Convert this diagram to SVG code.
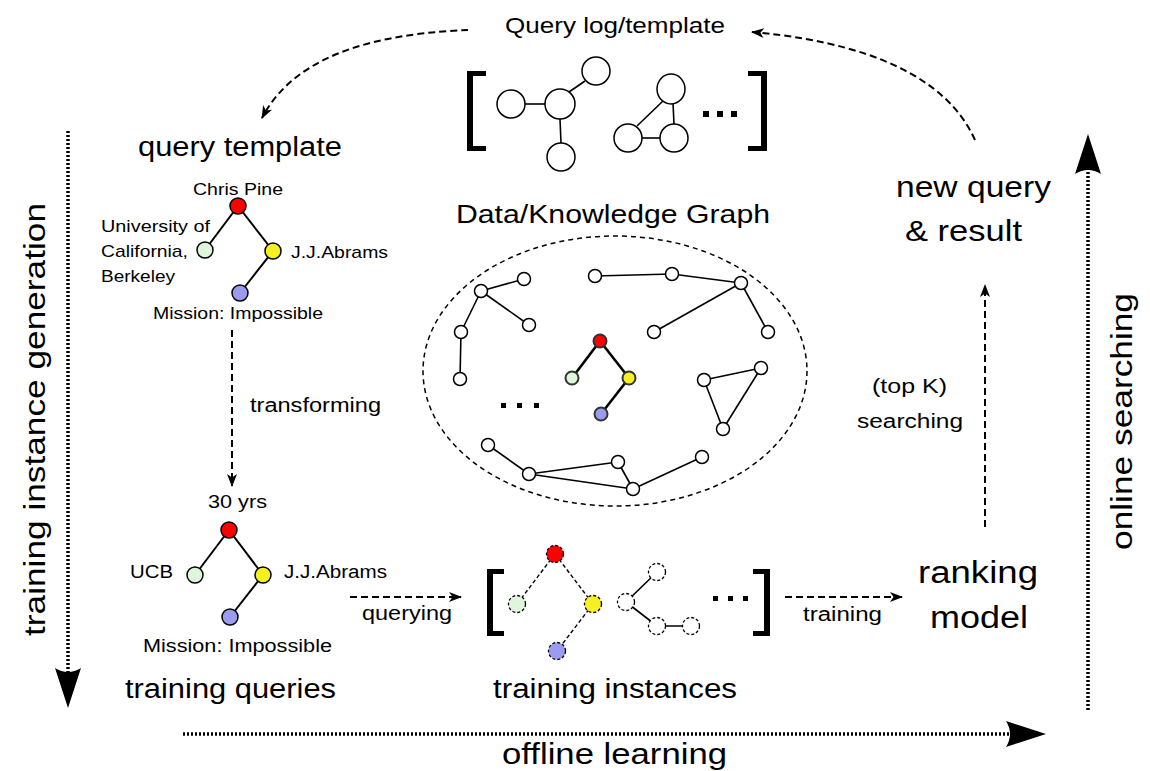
<svg xmlns="http://www.w3.org/2000/svg" width="1150" height="771" viewBox="0 0 1150 771">
<defs>
<style>
text{font-family:"Liberation Sans",Arial,sans-serif;fill:#000}
.dash{fill:none;stroke:#000;stroke-width:2;stroke-dasharray:7 4}
.dot{fill:none;stroke:#000;stroke-width:3.5;stroke-dasharray:2 2}
.e{stroke:#000;stroke-width:1.6;fill:none}
.te{stroke:#000;stroke-width:2;fill:none}
.ke{stroke:#000;stroke-width:2.6;fill:none}
.de{stroke:#000;stroke-width:1.4;fill:none;stroke-dasharray:4 2.5}
.n{stroke:#000;stroke-width:1.5;fill:#fff}
.dn{stroke:#000;stroke-width:1.3;stroke-dasharray:3 2}
.kn{stroke:#333;stroke-width:2}
.br{fill:#000}
.red{fill:#ff0000}.grn{fill:#dff6dc}.yel{fill:#f6f022}.blu{fill:#9b9cf0}
</style>
<marker id="ah" markerWidth="14" markerHeight="10" refX="12" refY="5" orient="auto" markerUnits="userSpaceOnUse"><path d="M0,0 L13,5 L0,10 L3.5,5 Z" fill="#000"/></marker>
</defs>
<rect width="1150" height="771" fill="#fff"/>

<g id="connectors">
<path class="dash" d="M468,30 C400,33 300,45 262,118" marker-end="url(#ah)"/>
<path class="dash" d="M975,140 C955,95 900,45 752,32" marker-end="url(#ah)"/>
<path class="dash" d="M232,330 L232,486" marker-end="url(#ah)"/>
<path class="dash" d="M350,597 L461,597" marker-end="url(#ah)"/>
<path class="dash" d="M785,597 L902,597" marker-end="url(#ah)"/>
<path class="dash" d="M985,527 L985,285" marker-end="url(#ah)"/>
<path class="dot" d="M68,131 L68,675"/>
<path d="M68,708 L55,668 Q68,676 81,668 Z" fill="#000"/>
<path class="dot" d="M183,734 L1012,734"/>
<path d="M1046,734 L1006,721 Q1014,734 1006,747 Z" fill="#000"/>
<path class="dot" d="M1088,710 L1088,168"/>
<path d="M1088,134 L1075,174 Q1088,166 1101,174 Z" fill="#000"/>
</g>

<g id="query-log">
<text x="505" y="33" font-size="22" textLength="220" lengthAdjust="spacingAndGlyphs">Query log/template</text>
<path class="br" d="M467,71 h19 v5 h-13 v70 h13 v5 h-19 Z"/>
<line class="e" x1="525" y1="104" x2="545" y2="104"/>
<line class="e" x1="560" y1="119" x2="561" y2="143"/>
<line class="e" x1="569" y1="92" x2="585" y2="81"/>
<circle class="n" cx="511" cy="104" r="14"/>
<circle class="n" cx="560" cy="104" r="15"/>
<circle class="n" cx="596" cy="71" r="14"/>
<circle class="n" cx="561" cy="157" r="14"/>
<line class="e" x1="673" y1="103" x2="674" y2="124"/>
<line class="e" x1="663" y1="101" x2="637" y2="126"/>
<line class="e" x1="642" y1="138" x2="660" y2="138"/>
<ellipse class="n" cx="671" cy="89" rx="14" ry="15"/>
<circle class="n" cx="628" cy="138" r="14"/>
<circle class="n" cx="674" cy="138" r="14"/>
<rect x="703" y="111" width="6" height="6"/>
<rect x="717" y="111" width="6" height="6"/>
<rect x="731" y="111" width="6" height="6"/>
<path class="br" d="M767,71 h-19 v5 h13 v70 h-13 v5 h19 Z"/>
</g>

<g id="query-template">
<text x="138" y="156" font-size="27" textLength="204" lengthAdjust="spacingAndGlyphs">query template</text>
<line class="te" x1="238" y1="206" x2="205" y2="250"/>
<line class="te" x1="238" y1="206" x2="273" y2="251"/>
<line class="te" x1="273" y1="251" x2="240" y2="293"/>
<circle class="n red" cx="238" cy="206" r="8"/>
<circle class="n grn" cx="205" cy="250" r="8"/>
<circle class="n yel" cx="273" cy="251" r="8"/>
<circle class="n blu" cx="240" cy="293" r="8"/>
<text x="193" y="195" font-size="17" textLength="90" lengthAdjust="spacingAndGlyphs">Chris Pine</text>
<text x="101" y="232" font-size="17" textLength="109" lengthAdjust="spacingAndGlyphs">University of</text>
<text x="101" y="257" font-size="17" textLength="87" lengthAdjust="spacingAndGlyphs">California,</text>
<text x="101" y="282" font-size="17" textLength="74" lengthAdjust="spacingAndGlyphs">Berkeley</text>
<text x="291" y="258" font-size="17" textLength="97" lengthAdjust="spacingAndGlyphs">J.J.Abrams</text>
<text x="153" y="319" font-size="17" textLength="170" lengthAdjust="spacingAndGlyphs">Mission: Impossible</text>
</g>

<g id="transforming-label">
<text x="250" y="412" font-size="20" textLength="131" lengthAdjust="spacingAndGlyphs">transforming</text>
</g>

<g id="knowledge-graph">
<text x="456" y="223" font-size="25" textLength="314" lengthAdjust="spacingAndGlyphs">Data/Knowledge Graph</text>
<ellipse cx="615" cy="371" rx="192" ry="135" fill="none" stroke="#000" stroke-width="1.5" stroke-dasharray="5 4"/>
<g class="e">
<line x1="481" y1="291" x2="524" y2="279"/>
<line x1="481" y1="291" x2="529" y2="325"/>
<line x1="481" y1="291" x2="461" y2="332"/>
<line x1="461" y1="332" x2="460" y2="379"/>
<line x1="595" y1="276" x2="672" y2="274"/>
<line x1="672" y1="274" x2="741" y2="283"/>
<line x1="741" y1="283" x2="654" y2="332"/>
<line x1="741" y1="283" x2="768" y2="332"/>
<line x1="704" y1="380" x2="761" y2="368"/>
<line x1="704" y1="380" x2="723" y2="429"/>
<line x1="761" y1="368" x2="723" y2="429"/>
<line x1="488" y1="445" x2="529" y2="474"/>
<line x1="529" y1="474" x2="618" y2="462"/>
<line x1="529" y1="474" x2="633" y2="489"/>
<line x1="618" y1="462" x2="633" y2="489"/>
<line x1="633" y1="489" x2="702" y2="457"/>
</g>
<g class="n">
<circle cx="481" cy="291" r="6.5"/><circle cx="524" cy="279" r="6.5"/><circle cx="529" cy="325" r="6.5"/>
<circle cx="461" cy="332" r="6.5"/><circle cx="460" cy="379" r="6.5"/>
<circle cx="595" cy="276" r="6.5"/><circle cx="672" cy="274" r="6.5"/><circle cx="741" cy="283" r="6.5"/>
<circle cx="654" cy="332" r="6.5"/><circle cx="768" cy="332" r="6.5"/>
<circle cx="704" cy="380" r="6.5"/><circle cx="761" cy="368" r="6.5"/><circle cx="723" cy="429" r="6.5"/>
<circle cx="488" cy="445" r="6.5"/><circle cx="529" cy="474" r="6.5"/><circle cx="618" cy="462" r="6.5"/>
<circle cx="633" cy="489" r="6.5"/><circle cx="702" cy="457" r="6.5"/>
</g>
<line class="ke" x1="600" y1="341" x2="572" y2="378"/>
<line class="ke" x1="600" y1="341" x2="629" y2="378"/>
<line class="ke" x1="629" y1="378" x2="601" y2="414"/>
<circle class="kn red" cx="600" cy="341" r="6.5"/>
<circle class="kn grn" cx="572" cy="378" r="6.5"/>
<circle class="kn yel" cx="629" cy="378" r="6.5"/>
<circle class="kn blu" cx="601" cy="414" r="6.5"/>
<rect x="501" y="403" width="5" height="5"/>
<rect x="517" y="403" width="5" height="5"/>
<rect x="534" y="403" width="5" height="5"/>
</g>

<g id="new-query">
<text x="896" y="197" font-size="30" textLength="155" lengthAdjust="spacingAndGlyphs">new query</text>
<text x="905" y="241" font-size="30" textLength="117" lengthAdjust="spacingAndGlyphs">&amp; result</text>
</g>

<g id="searching-label">
<text x="872" y="393" font-size="20" textLength="75" lengthAdjust="spacingAndGlyphs">(top K)</text>
<text x="857" y="428" font-size="20" textLength="106" lengthAdjust="spacingAndGlyphs">searching</text>
</g>

<g id="ranking-model">
<text x="918" y="583" font-size="31" textLength="120" lengthAdjust="spacingAndGlyphs">ranking</text>
<text x="930" y="628" font-size="31" textLength="98" lengthAdjust="spacingAndGlyphs">model</text>
</g>

<g id="training-queries">
<text x="208" y="508" font-size="19" textLength="59" lengthAdjust="spacingAndGlyphs">30 yrs</text>
<line class="te" x1="229" y1="530" x2="195" y2="575"/>
<line class="te" x1="229" y1="530" x2="263" y2="575"/>
<line class="te" x1="263" y1="575" x2="230" y2="617"/>
<circle class="n red" cx="229" cy="530" r="8"/>
<circle class="n grn" cx="195" cy="575" r="8"/>
<circle class="n yel" cx="263" cy="575" r="8"/>
<circle class="n blu" cx="230" cy="617" r="8"/>
<text x="130" y="578" font-size="18" textLength="43" lengthAdjust="spacingAndGlyphs">UCB</text>
<text x="284" y="578" font-size="18" textLength="103" lengthAdjust="spacingAndGlyphs">J.J.Abrams</text>
<text x="143" y="652" font-size="18" textLength="189" lengthAdjust="spacingAndGlyphs">Mission: Impossible</text>
<text x="125" y="698" font-size="27" textLength="211" lengthAdjust="spacingAndGlyphs">training queries</text>
</g>

<g id="querying-label">
<text x="362" y="620" font-size="20" textLength="90" lengthAdjust="spacingAndGlyphs">querying</text>
</g>

<g id="training-instances">
<path class="br" d="M487,569 h17 v5 h-11 v57 h11 v5 h-17 Z"/>
<line class="de" x1="555" y1="554" x2="517" y2="604"/>
<line class="de" x1="555" y1="554" x2="593" y2="604"/>
<line class="de" x1="593" y1="604" x2="557" y2="651"/>
<circle class="dn red" cx="555" cy="554" r="8.5"/>
<circle class="dn grn" cx="517" cy="604" r="8.5"/>
<circle class="dn yel" cx="593" cy="604" r="8.5"/>
<circle class="dn blu" cx="557" cy="651" r="8.5"/>
<line class="e" x1="657" y1="572" x2="626" y2="602"/>
<line class="e" x1="626" y1="602" x2="657" y2="626"/>
<line class="e" x1="657" y1="626" x2="691" y2="626"/>
<g class="dn" fill="#fff">
<circle cx="657" cy="572" r="8.5"/><circle cx="626" cy="602" r="8.5"/>
<circle cx="657" cy="626" r="8.5"/><circle cx="691" cy="626" r="8.5"/>
</g>
<rect x="713" y="596" width="5" height="5"/>
<rect x="728" y="596" width="5" height="5"/>
<rect x="743" y="596" width="5" height="5"/>
<path class="br" d="M770,569 h-17 v5 h11 v57 h-11 v5 h17 Z"/>
<text x="493" y="698" font-size="27" textLength="244" lengthAdjust="spacingAndGlyphs">training instances</text>
</g>

<g id="training-label">
<text x="803" y="621" font-size="20" textLength="79" lengthAdjust="spacingAndGlyphs">training</text>
</g>

<g id="phase-labels">
<text transform="translate(45,636) rotate(-90)" font-size="29" textLength="433" lengthAdjust="spacingAndGlyphs">training instance generation</text>
<text transform="translate(1132,550) rotate(-90)" font-size="30" textLength="257" lengthAdjust="spacingAndGlyphs">online searching</text>
<text x="502" y="764" font-size="30" textLength="225" lengthAdjust="spacingAndGlyphs">offline learning</text>
</g>
</svg>
